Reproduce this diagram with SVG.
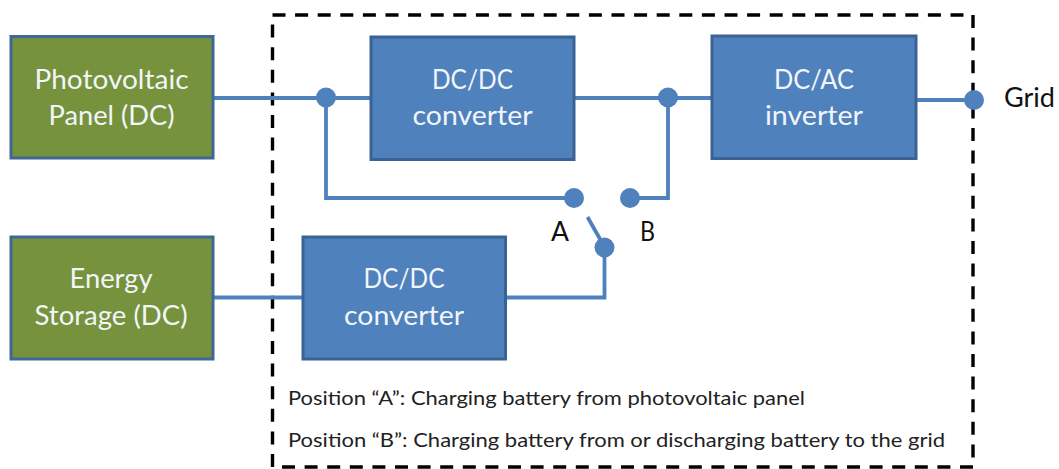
<svg xmlns="http://www.w3.org/2000/svg" width="1059" height="469" viewBox="0 0 1059 469">
<style>
text{font-family:"Lato","Open Sans","Liberation Sans",sans-serif}
.g{fill:#76923c;stroke:#3f6797;stroke-width:3}
.b{fill:#4f81bd;stroke:#3a6294;stroke-width:3}
.w{fill:#f2f5fa;font-size:27px;text-anchor:middle}
.k{fill:#111;font-size:26px}
.s{fill:#222;font-size:20px}
.l{fill:none;stroke:#4f81bd;stroke-width:3.800}
.d{fill:#4f81bd}
</style>
<rect width="1059" height="469" fill="#fff"/>
<path id="boundary" d="M272.500 15H973M973 15V467M973 467H272.500M272.500 467V15" fill="none" stroke="#000" stroke-width="3.400" stroke-dasharray="13 9.600"/>
<g id="connectors">
<path class="l" d="M212 98H371"/>
<path class="l" d="M326 98V198H574"/>
<path class="l" d="M574 98H712"/>
<path class="l" d="M630 198H668V98"/>
<path class="l" d="M916 100H974"/>
<path class="l" d="M212 297.500H303"/>
<path class="l" d="M505 297.500H604.500V247"/>
<path class="l" d="M587.500 217L604.500 247"/>
</g>
<g id="pv"><rect class="g" x="11" y="36.500" width="202" height="121.500"/>
<text class="w" x="111.500" y="88.500" textLength="154" lengthAdjust="spacingAndGlyphs">Photovoltaic</text><text class="w" x="111.500" y="125" textLength="126" lengthAdjust="spacingAndGlyphs">Panel (DC)</text></g>
<g id="storage"><rect class="g" x="11" y="237" width="202" height="122"/>
<text class="w" x="111" y="288" textLength="83" lengthAdjust="spacingAndGlyphs">Energy</text><text class="w" x="111" y="325" textLength="153" lengthAdjust="spacingAndGlyphs">Storage (DC)</text></g>
<g id="dcdc1"><rect class="b" x="371" y="37" width="203" height="122.500"/>
<text class="w" x="472.500" y="88.500" textLength="81" lengthAdjust="spacingAndGlyphs">DC/DC</text><text class="w" x="472.500" y="125" textLength="120" lengthAdjust="spacingAndGlyphs">converter</text></g>
<g id="inverter"><rect class="b" x="712" y="36" width="204" height="122.500"/>
<text class="w" x="814" y="88.500" textLength="80" lengthAdjust="spacingAndGlyphs">DC/AC</text><text class="w" x="814" y="125" textLength="98" lengthAdjust="spacingAndGlyphs">inverter</text></g>
<g id="dcdc2"><rect class="b" x="303" y="237" width="202.500" height="122"/>
<text class="w" x="404" y="288" textLength="81" lengthAdjust="spacingAndGlyphs">DC/DC</text><text class="w" x="404" y="325" textLength="120" lengthAdjust="spacingAndGlyphs">converter</text></g>
<g id="dot-input"><circle class="d" cx="326" cy="97.500" r="10"/></g>
<g id="dot-output"><circle class="d" cx="668" cy="97.500" r="10"/></g>
<g id="dot-a"><circle class="d" cx="574" cy="198" r="10"/></g>
<g id="dot-b"><circle class="d" cx="630" cy="198" r="10"/></g>
<g id="dot-switch"><circle class="d" cx="604.500" cy="247.500" r="10"/></g>
<g id="dot-grid"><circle class="d" cx="974" cy="100" r="10"/></g>
<text class="k" x="551" y="241" textLength="18" lengthAdjust="spacingAndGlyphs">A</text>
<text class="k" x="640" y="241" textLength="15" lengthAdjust="spacingAndGlyphs">B</text>
<text class="k" x="1004" y="107" textLength="51" lengthAdjust="spacingAndGlyphs">Grid</text>
<text class="s" x="288" y="405" textLength="517" lengthAdjust="spacingAndGlyphs">Position “A”: Charging battery from photovoltaic panel</text>
<text class="s" x="288" y="446.500" textLength="657" lengthAdjust="spacingAndGlyphs">Position “B”: Charging battery from or discharging battery to the grid</text>
</svg>
